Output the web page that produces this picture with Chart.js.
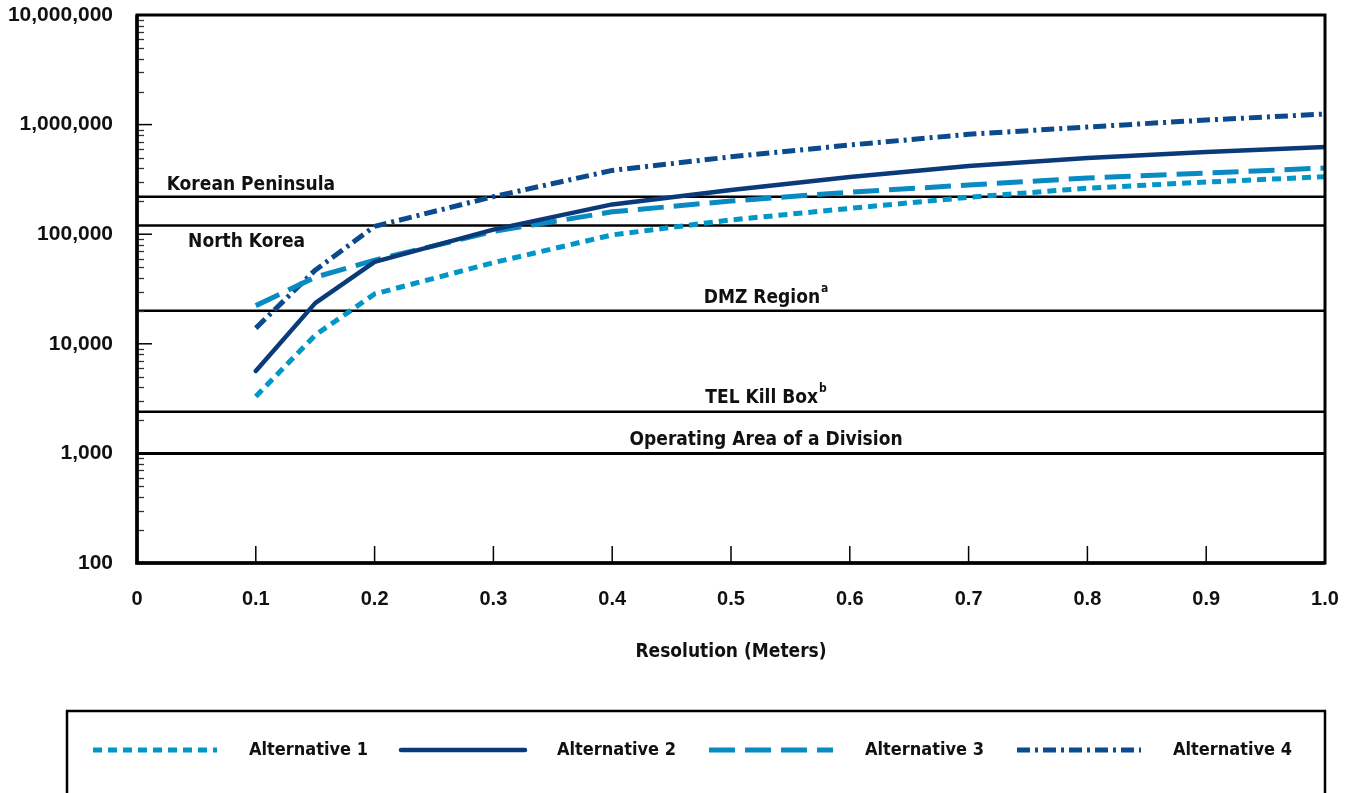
<!DOCTYPE html>
<html>
<head>
<meta charset="utf-8">
<script src="https://cdn.jsdelivr.net/npm/chart.js@4.4.1/dist/chart.umd.min.js"></script>
<style>
  html, body { margin: 0; padding: 0; background: #fff; }
  #wrap { width: 1353px; height: 793px; }
</style>
</head>
<body>
<div id="wrap"><canvas id="myChart"></canvas></div>
<script>
// data
const resolution = [0.1, 0.15, 0.2, 0.3, 0.4, 0.5, 0.6, 0.7, 0.8, 0.9, 1.0];
const alt1 = [3300, 12000, 28500, 55000, 98500, 135000, 172000, 217000, 263000, 299000, 335000];
const alt2 = [5650, 23500, 56000, 110000, 187000, 253000, 333000, 419000, 495000, 562000, 625000];
const alt3 = [22300, 40500, 58000, 106000, 160000, 201000, 242000, 281000, 326000, 361000, 402000];
const alt4 = [13900, 47000, 118000, 220000, 382000, 508000, 651000, 815000, 951000, 1100000, 1250000];
const seriesNames = ['Alternative 1', 'Alternative 2', 'Alternative 3', 'Alternative 4'];

const xTicks = [0, 0.1, 0.2, 0.3, 0.4, 0.5, 0.6, 0.7, 0.8, 0.9, 1.0];
const yTicks = [100, 1000, 10000, 100000, 1000000, 10000000];

// reference areas (km2)
const areaNames = ['Korean Peninsula', 'North Korea', 'DMZ Region', 'TEL Kill Box', 'Operating Area of a Division'];
const areaNotes = ['', '', 'a', 'b', ''];
const areaValues = [220000, 120000, 20000, 2400, 1000];

// label placement (x value, pixel offset from line)
const areaLabelPos = [
  { x: 0.025, dy: -12, align: 'left' },
  { x: 0.043, dy: 17, align: 'left' },
  { x: 0.5295, dy: -13, align: 'center' },
  { x: 0.5295, dy: -14, align: 'center' },
  { x: 0.5295, dy: -13, align: 'center' }
];

const FONT = '"DejaVu Sans Condensed", "Liberation Sans Narrow", "DejaVu Sans", sans-serif';
const TICKFONT = '"Liberation Sans", Arial, sans-serif';

function pts(vals) {
  return resolution.map((r, i) => ({ x: r, y: vals[i] }));
}

const refLines = {
  id: 'refLines',
  beforeDatasetsDraw(chart) {
    const { ctx, chartArea, scales } = chart;
    ctx.save();
    ctx.strokeStyle = '#000';
    areaValues.forEach((v, i) => {
      const y = scales.y.getPixelForValue(v);
      ctx.lineWidth = i === areaValues.length - 1 ? 3 : 2.5;
      ctx.beginPath();
      ctx.moveTo(chartArea.left, y);
      ctx.lineTo(chartArea.right, y);
      ctx.stroke();
    });
    ctx.restore();
  },
  afterDatasetsDraw(chart) {
    const { ctx, scales } = chart;
    ctx.save();
    ctx.fillStyle = '#111';
    ctx.textBaseline = 'middle';
    areaNames.forEach((name, i) => {
      const p = areaLabelPos[i];
      const y = scales.y.getPixelForValue(areaValues[i]) + p.dy;
      let x = scales.x.getPixelForValue(p.x);
      ctx.font = 'bold 19px ' + FONT;
      const w = ctx.measureText(name).width;
      ctx.font = 'bold 12px ' + FONT;
      const wn = areaNotes[i] ? ctx.measureText(areaNotes[i]).width + 1 : 0;
      if (p.align === 'center') x -= (w + wn) / 2;
      ctx.textAlign = 'left';
      ctx.font = 'bold 19px ' + FONT;
      ctx.fillText(name, x, y);
      if (areaNotes[i]) {
        ctx.font = 'bold 12px ' + FONT;
        ctx.fillText(areaNotes[i], x + w + 1, y - 9);
      }
    });
    ctx.restore();
  }
};

const frame = {
  id: 'frame',
  afterDraw(chart) {
    const { ctx, chartArea, scales } = chart;
    const { left, right, top, bottom } = chartArea;
    ctx.save();
    // y minor / major ticks (inside)
    ctx.strokeStyle = '#333';
    ctx.lineWidth = 1.3;
    for (let d = 100; d < 10000000; d *= 10) {
      for (let m = 2; m <= 9; m++) {
        const y = Math.round(scales.y.getPixelForValue(m * d)) + 0.5;
        ctx.beginPath();
        ctx.moveTo(left, y);
        ctx.lineTo(left + 7, y);
        ctx.stroke();
      }
    }
    ctx.strokeStyle = '#000';
    ctx.lineWidth = 1.5;
    yTicks.forEach(v => {
      const y = scales.y.getPixelForValue(v);
      ctx.beginPath();
      ctx.moveTo(left, y);
      ctx.lineTo(left + 15, y);
      ctx.stroke();
    });
    // x ticks (inside)
    xTicks.forEach(v => {
      const x = scales.x.getPixelForValue(v);
      ctx.beginPath();
      ctx.moveTo(x, bottom);
      ctx.lineTo(x, bottom - 17);
      ctx.stroke();
    });
    // box
    ctx.lineWidth = 3;
    ctx.strokeRect(left, top, right - left, bottom - top);
    ctx.lineWidth = 3.5;
    ctx.beginPath();
    ctx.moveTo(left, top);
    ctx.lineTo(left, bottom);
    ctx.lineTo(right, bottom);
    ctx.stroke();

    // legend
    const lg = { left: 67, top: 711, right: 1325, cy: 750, first: 93, step: 308, lineLen: 124, gap: 32 };
    ctx.lineWidth = 2.5;
    ctx.strokeRect(lg.left, lg.top, lg.right - lg.left, 120);
    chart.data.datasets.forEach((ds, i) => {
      const x0 = lg.first + i * lg.step;
      ctx.save();
      ctx.strokeStyle = ds.borderColor;
      ctx.lineWidth = ds.borderWidth;
      ctx.lineCap = ds.borderCapStyle || 'butt';
      ctx.setLineDash(ds.borderDash || []);
      ctx.beginPath();
      ctx.moveTo(x0, lg.cy);
      ctx.lineTo(x0 + lg.lineLen, lg.cy);
      ctx.stroke();
      ctx.restore();
      ctx.fillStyle = '#111';
      ctx.font = 'bold 18px ' + FONT;
      ctx.textAlign = 'left';
      ctx.textBaseline = 'middle';
      ctx.fillText(ds.label, x0 + lg.lineLen + lg.gap, lg.cy);
    });
    ctx.restore();
  }
};

const ctx = document.getElementById('myChart').getContext('2d');
new Chart(ctx, {
  type: 'line',
  data: {
    datasets: [
      { label: seriesNames[0], data: pts(alt1), borderColor: '#0096C8', borderWidth: 5, borderDash: [9, 6], borderCapStyle: 'butt' },
      { label: seriesNames[1], data: pts(alt2), borderColor: '#0B3A7A', borderWidth: 4.5, borderDash: [], borderCapStyle: 'round' },
      { label: seriesNames[2], data: pts(alt3), borderColor: '#0A8AC2', borderWidth: 5, borderDash: [26, 10], borderCapStyle: 'butt' },
      { label: seriesNames[3], data: pts(alt4), borderColor: '#0B4A8C', borderWidth: 5, borderDash: [13, 5, 3, 5], borderCapStyle: 'butt' }
    ]
  },
  options: {
    responsive: true,
    maintainAspectRatio: false,
    animation: false,
    layout: { padding: { top: 15, right: 28, left: 0, bottom: 0 } },
    elements: { point: { radius: 0 }, line: { tension: 0, borderJoinStyle: 'round' } },
    plugins: { legend: { display: false }, tooltip: { enabled: false } },
    scales: {
      x: {
        type: 'linear',
        min: 0,
        max: 1,
        afterBuildTicks: s => { s.ticks = xTicks.map(v => ({ value: v })); },
        afterFit: s => { s.height = 230; s.paddingLeft = 0; s.paddingRight = 0; },
        grid: { display: false, drawTicks: false },
        border: { display: false },
        ticks: {
          autoSkip: false,
          maxRotation: 0,
          padding: 24,
          color: '#111',
          font: { family: TICKFONT, size: 20, weight: 'bold' },
          callback: v => v === 0 ? '0' : v.toFixed(1)
        },
        title: {
          display: true,
          text: 'Resolution (Meters)',
          color: '#111',
          font: { family: FONT, size: 19, weight: 'bold' },
          padding: { top: 0, bottom: 130 }
        }
      },
      y: {
        type: 'logarithmic',
        min: 100,
        max: 10000000,
        afterBuildTicks: s => { s.ticks = yTicks.map(v => ({ value: v, major: true })); },
        afterFit: s => { s.width = 137; s.paddingTop = 0; s.paddingBottom = 0; },
        grid: { display: false, drawTicks: false },
        border: { display: false },
        ticks: {
          padding: 24,
          color: '#111',
          font: { family: TICKFONT, size: 21, weight: 'bold' },
          callback: v => Number(v).toLocaleString('en-US')
        }
      }
    }
  },
  plugins: [refLines, frame]
});
</script>
</body>
</html>
